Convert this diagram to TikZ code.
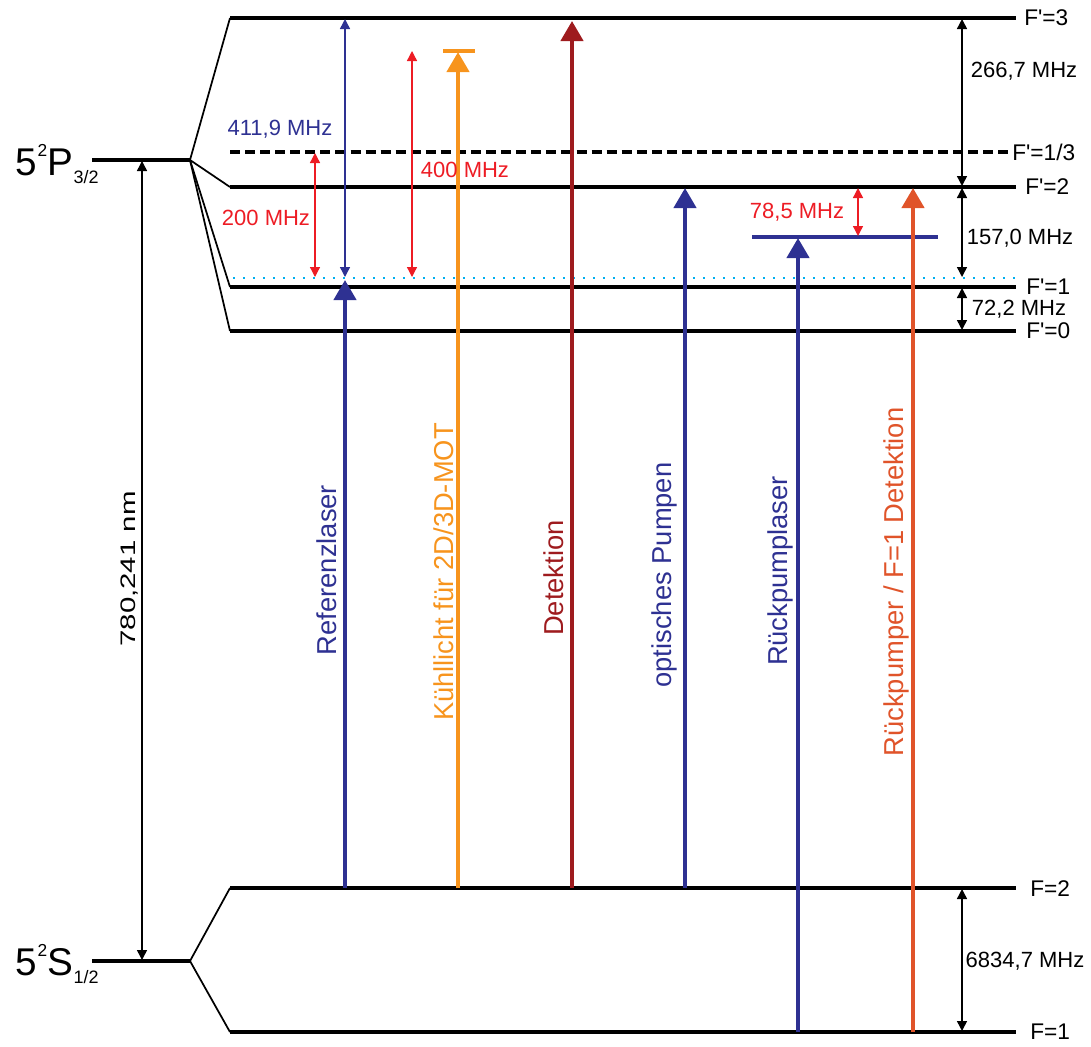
\documentclass[tikz,border=0pt]{standalone}
\usepackage{fontspec}
\setmainfont{Liberation Sans}
\usetikzlibrary{arrows.meta}
\definecolor{lblue}{HTML}{2E3192}
\definecolor{lorange}{HTML}{F7941D}
\definecolor{ldred}{HTML}{9E1B1E}
\definecolor{lored}{HTML}{E0542A}
\definecolor{ared}{HTML}{ED1C24}
\definecolor{lcyan}{HTML}{00AEEF}
\begin{document}
\begin{tikzpicture}[x=0.75pt,y=-0.75pt,
 level/.style={line width=2.7pt},
 fan/.style={line width=1.3pt},
 laser/.style={line width=3.2pt,-{Triangle[length=15pt,width=16.5pt]}},
 dimarrow/.style={line width=1.1pt,{Triangle[length=7.5pt,width=7.5pt]}-{Triangle[length=7.5pt,width=7.5pt]}},
 flabel/.style={font=\fontsize{17}{17}\selectfont,anchor=west,inner sep=0pt},
 mhz/.style={font=\fontsize{16.5}{16.5}\selectfont,inner sep=0pt},
 rlabel/.style={font=\fontsize{20.5}{20.5}\selectfont,rotate=90,inner sep=0pt},
]
\useasboundingbox (0,0) rectangle (1091,1046);

% ---------- coordinates ----------
\coordinate (Pl) at (92,160);  \coordinate (P) at (190,160);
\coordinate (Sl) at (92,961);  \coordinate (S) at (190,961);
\coordinate (F3l) at (230,18);   \coordinate (F3r) at (1016,18);
\coordinate (F13l) at (230,152); \coordinate (F13r) at (1010,152);
\coordinate (F2pl) at (230,187); \coordinate (F2pr) at (1016,187);
\coordinate (F1pl) at (230,287); \coordinate (F1pr) at (1016,287);
\coordinate (F0l) at (230,331);  \coordinate (F0r) at (1016,331);
\coordinate (Cl) at (233,278);   \coordinate (Cr) at (1017,278);
\coordinate (F2l) at (230,888);  \coordinate (F2r) at (1016,888);
\coordinate (F1l) at (230,1032); \coordinate (F1r) at (1016,1032);
\coordinate (Vl) at (752,237);   \coordinate (Vr) at (938,237);

% ---------- levels ----------
\draw[level] (Pl) -- (P);
\draw[level] (Sl) -- (S);
\draw[level] (F3l) -- (F3r);
\draw[level,dash pattern=on 7.5pt off 3.8pt] (F13l) -- (F13r);
\draw[level] (F2pl) -- (F2pr);
\draw[level] (F1pl) -- (F1pr);
\draw[level] (F0l) -- (F0r);
\draw[level] (F2l) -- (F2r);
\draw[level] (F1l) -- (F1r);
\draw[lcyan,line width=1.6pt,dash pattern=on 1.6pt off 5.9pt] (Cl) -- (Cr);
\draw[lblue,line width=3pt] (Vl) -- (Vr);

% ---------- fans ----------
\draw[fan] (P) -- (F3l);
\draw[fan] (P) -- (F2pl);
\draw[fan] (P) -- (F1pl);
\draw[fan] (P) -- (F0l);
\draw[fan] (S) -- (F2l);
\draw[fan] (S) -- (F1l);

% ---------- state labels ----------
\node[anchor=base east,inner sep=0pt] (Plab) at (99,175)
 {\fontsize{29}{29}\selectfont 5\kern0.5pt\raisebox{14pt}{\fontsize{13}{13}\selectfont 2}\kern0.5ptP\raisebox{-6pt}{\fontsize{13.5}{13.5}\selectfont 3/2}};
\node[anchor=base east,inner sep=0pt] (Slab) at (99,975)
 {\fontsize{29}{29}\selectfont 5\kern0.5pt\raisebox{14pt}{\fontsize{13}{13}\selectfont 2}\kern0.5ptS\raisebox{-6pt}{\fontsize{13.5}{13.5}\selectfont 1/2}};

\node[flabel] (l3) at (1024,18) {F\textquotesingle=3};
\node[flabel] (l13) at (1012,152) {F\textquotesingle=1/3};
\node[flabel] (l2p) at (1025,187) {F\textquotesingle=2};
\node[flabel] (l1p) at (1026,287) {F\textquotesingle=1};
\node[flabel] (l0p) at (1026,331) {F\textquotesingle=0};
\node[flabel] (l2) at (1030,889) {F=2};
\node[flabel] (l1) at (1030,1032) {F=1};

% ---------- laser arrows ----------
\coordinate (refb) at (345,888);  \coordinate (reft) at (345,280);
\coordinate (kueb) at (458,888);  \coordinate (kuet) at (458,52);
\coordinate (barl) at (443,51);   \coordinate (barr) at (475,51);
\coordinate (detb) at (572,888);  \coordinate (dett) at (572,21);
\coordinate (optb) at (685,888);  \coordinate (optt) at (685,188);
\coordinate (rpb) at (798,1032);  \coordinate (rpt) at (798,238);
\coordinate (rdb) at (913,1032);  \coordinate (rdt) at (913,188);

\draw[laser,lblue] (refb) -- (reft);
\draw[laser,lorange] (kueb) -- (kuet);
\draw[lorange,line width=2.8pt] (barl) -- (barr);
\draw[laser,ldred] (detb) -- (dett);
\draw[laser,lblue] (optb) -- (optt);
\draw[laser,lblue] (rpb) -- (rpt);
\draw[laser,lored] (rdb) -- (rdt);

\node[rlabel,text=lblue] (tref) at (327,570) {Referenzlaser};
\node[rlabel,text=lorange] (tkue) at (444,572) {Kühllicht für 2D/3D-MOT};
\node[rlabel,text=ldred] (tdet) at (554,578) {Detektion};
\node[rlabel,text=lblue] (topt) at (664,575) {optisches Pumpen};
\node[rlabel,text=lblue] (trp) at (780,571) {Rückpumplaser};
\node[rlabel,text=lored] (trd) at (896,582) {Rückpumper / F=1 Detektion};

% ---------- dimension arrows ----------
\coordinate (nmt) at (142,161); \coordinate (nmb) at (142,960);
\draw[dimarrow] (nmt) -- (nmb);
\node[rotate=90,inner sep=0pt,font=\fontsize{15.75}{15.75}\selectfont] (tnm) at (130,569) {\scalebox{1.4}[1]{780,241 nm}};

\coordinate (a4t) at (345,19);  \coordinate (a4b) at (345,277);
\draw[dimarrow,lblue] (a4t) -- (a4b);
\node[mhz,text=lblue] (t411) at (280,129) {411,9 MHz};

\coordinate (a2t) at (315,153); \coordinate (a2b) at (315,277);
\draw[dimarrow,ared,line width=1pt] (a2t) -- (a2b);
\node[mhz,text=ared] (t200) at (266,218) {200 MHz};

\coordinate (a40t) at (412,51); \coordinate (a40b) at (412,277);
\draw[dimarrow,ared,line width=1pt] (a40t) -- (a40b);
\node[mhz,text=ared] (t400) at (465,170) {400 MHz};

\coordinate (a78t) at (858,188); \coordinate (a78b) at (858,236);
\draw[dimarrow,ared,line width=1pt] (a78t) -- (a78b);
\node[mhz,text=ared] (t78) at (797,212) {78,5 MHz};

\coordinate (b1t) at (962,19);  \coordinate (b1b) at (962,186);
\coordinate (b2t) at (962,188); \coordinate (b2b) at (962,277);
\coordinate (b3t) at (962,288); \coordinate (b3b) at (962,330);
\coordinate (b4t) at (962,889); \coordinate (b4b) at (962,1031);
\draw[dimarrow] (b1t) -- (b1b);
\draw[dimarrow] (b2t) -- (b2b);
\draw[dimarrow] (b3t) -- (b3b);
\draw[dimarrow] (b4t) -- (b4b);
\node[mhz] (t266) at (1024,71) {266,7 MHz};
\node[mhz] (t157) at (1020,238) {157,0 MHz};
\node[mhz] (t72) at (1019,309) {72,2 MHz};
\node[mhz] (t6834) at (1025,961) {6834,7 MHz};
\end{tikzpicture}
\end{document}
